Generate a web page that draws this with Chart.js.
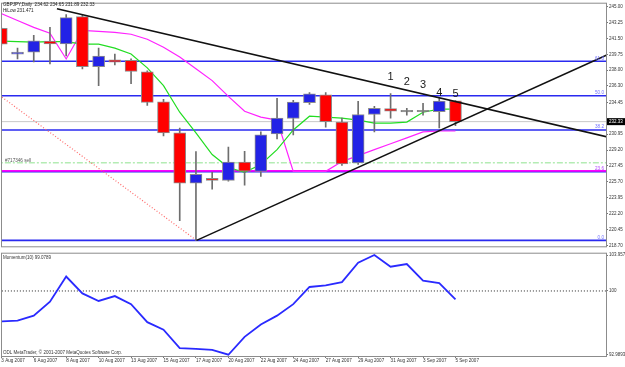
<!DOCTYPE html>
<html>
<head>
<meta charset="utf-8">
<script src="https://cdn.jsdelivr.net/npm/chart.js@4.4.0/dist/chart.umd.min.js"></script>
<style>
  html, body { margin: 0; padding: 0; background: #fff; }
  #wrap { position: relative; width: 625px; height: 367px; overflow: hidden; }
  #main { position: absolute; left: 0; top: 0; }
  #mom { position: absolute; left: 0; top: 250px; }
</style>
</head>
<body>
<div id="wrap">
  <canvas id="main" width="625" height="250"></canvas>
  <canvas id="mom" width="625" height="117"></canvas>
</div>
<script>
// bars (daily, incl. sunday bars)
const dates = ['3 Aug','5 Aug','6 Aug','7 Aug','8 Aug','9 Aug','10 Aug','12 Aug','13 Aug','14 Aug',
  '15 Aug','16 Aug','17 Aug','19 Aug','20 Aug','21 Aug','22 Aug','23 Aug','24 Aug','26 Aug',
  '27 Aug','28 Aug','29 Aug','30 Aug','31 Aug','2 Sep','3 Sep','4 Sep','5 Sep'];

const opens  = [242.61,239.78,240.00,241.20,240.90,243.91,238.40,239.13,239.10,237.83,
  234.51,231.09,225.54,226.09,225.84,227.86,226.85,230.98,232.68,234.42,
  235.29,232.28,227.79,233.12,233.77,233.40,233.42,233.42,234.62];
const highs  = [242.70,240.43,241.85,242.72,244.13,244.08,240.43,239.78,239.24,237.93,
  234.78,231.63,229.02,226.74,229.53,229.05,231.20,234.89,234.67,235.54,
  235.54,232.72,234.57,234.02,235.43,233.80,234.35,235.00,234.65];
const lows   = [240.70,239.24,238.91,238.70,239.57,238.15,236.30,238.59,236.52,234.13,
  230.76,221.41,219.24,224.89,225.76,225.33,226.30,230.43,230.87,234.24,
  231.71,227.50,227.61,231.20,232.72,233.04,233.04,231.63,231.89];
const closes = [240.87,240.00,241.25,240.90,243.80,238.40,239.57,238.88,237.86,234.46,
  231.09,225.54,226.52,225.84,227.86,226.88,230.87,232.72,234.49,235.40,
  232.32,227.68,233.12,233.80,233.48,233.40,233.42,234.60,232.33];

// moving averages
const greenMA = [241.20,241.14,241.09,241.14,241.14,240.87,240.87,240.43,239.78,238.26,
  236.30,233.37,231.09,228.70,227.28,226.74,227.61,229.24,231.41,232.93,
  232.83,232.72,232.50,232.17,232.17,232.28,233.37,233.70,233.70];
const magentaMA = [244.24,243.48,242.72,242.07,239.24,242.39,242.28,242.17,241.96,241.41,
  240.54,239.46,238.15,236.85,235.11,233.48,232.83,232.50,226.85,226.85,
  226.85,227.93,228.59,229.24,229.89,230.54,231.20,231.30,231.30];

// momentum(10)
const momentum = [96.65,96.75,97.29,98.83,101.59,99.73,98.90,99.44,98.55,96.57,
  95.75,93.71,93.63,93.53,92.9893,94.96,96.32,97.29,98.55,100.44,
  100.62,100.98,103.10,103.957,102.67,102.96,101.13,100.87,99.0789];

// objects on the chart
const fibLevels = [238.99, 235.18, 231.41, 226.82, 219.24];
const fibLabels = ['61.8', '50.0', '38.2', '23.6', '0.0'];
const magentaLevel = 226.90;
const bidPrice = 232.33;
const sellLevel = 227.79;
const trendDown = [[3.43, 244.78], [38, 230.38]];
const trendUp = [[12.04, 219.24], [38, 240.21]];
const fibDiag = [[-1, 236.40], [12.04, 219.24]];
const waveMarks = [[24, '1', 237.28], [25, '2', 236.74], [26, '3', 236.41], [27, '4', 235.54], [28, '5', 235.33]];

// axes
const priceTicks = [245.00,243.25,241.50,239.75,238.00,236.30,234.45,230.95,229.20,227.45,225.70,223.95,222.20,220.45,218.70];
const momTicks = [92.9893, 100, 103.957];
const tickBars = [0,2,4,6,8,10,12,14,16,18,20,22,24,26,28];
const tickLabels = ['3 Aug 2007','6 Aug 2007','8 Aug 2007','10 Aug 2007','13 Aug 2007','15 Aug 2007','17 Aug 2007',
  '20 Aug 2007','22 Aug 2007','24 Aug 2007','27 Aug 2007','29 Aug 2007','31 Aug 2007','3 Sep 2007','5 Sep 2007'];

const X_MIN = 0.043, X_MAX = 37.28;
const FONT = '"Liberation Sans", Arial, sans-serif';
Chart.defaults.font.family = FONT;
Chart.defaults.animation = false;

const UP = '#2222e6', DOWN = '#ff0000', DOJI = '#666666';

function hline(v, x0, x1) { return [{x: x0, y: v}, {x: x1, y: v}]; }
function seg(p) { return p.map(q => ({x: q[0], y: q[1]})); }
function lineDs(data, color, width, order, dash) {
  return { type: 'line', data, borderColor: color, borderWidth: width, borderDash: dash || [],
    pointRadius: 0, tension: 0, fill: false, order };
}

const bodyColor = ctx => {
  const i = ctx.dataIndex;
  if (Math.abs(closes[i] - opens[i]) < 0.02) return DOJI;
  return closes[i] > opens[i] ? UP : DOWN;
};

const datasets = [
  // fib and horizontal levels
  ...fibLevels.map(v => lineDs(hline(v, -2, 40), '#2a2af0', 1.6, 20)),
  lineDs(hline(magentaLevel, -2, 40), '#ff00ff', 1.6, 19),
  lineDs(hline(bidPrice, -2, 40), '#c8c8c8', 1, 21),
  lineDs(hline(sellLevel, -2, 40), '#b4ecb4', 1.5, 21, [6, 2, 2, 2]),
  lineDs(seg(fibDiag), '#ff6a6a', 1.2, 18, [1, 2]),
  // moving averages
  lineDs(greenMA.map((v, i) => ({x: i, y: v})), '#22dd22', 1.2, 10),
  lineDs(magentaMA.map((v, i) => ({x: i, y: v})), '#ff22ff', 1.2, 10),
  // candles
  { type: 'bar', data: lows.map((l, i) => ({x: i, y: [l, highs[i]]})), backgroundColor: '#6e6e6e',
    barThickness: 1, grouped: false, order: 5 },
  { type: 'bar', data: opens.map((o, i) => ({x: i, y: [o, closes[i]]})), backgroundColor: bodyColor,
    borderColor: '#8c8c8c', borderWidth: 1, borderSkipped: false, barThickness: 12,
    minBarLength: 1.5, grouped: false, order: 4 },
  // trend lines
  lineDs(seg(trendDown), '#111111', 1.5, 1),
  lineDs(seg(trendUp), '#111111', 1.5, 1)
];

const mainDecor = {
  id: 'mainDecor',
  afterDraw(chart) {
    const {ctx, chartArea: a, scales: {x, y}} = chart;
    ctx.save();
    ctx.strokeStyle = '#8c8c8c'; ctx.lineWidth = 1;
    ctx.strokeRect(a.left - 0.5, a.top - 0.5, a.right - a.left + 1, a.bottom - a.top + 1);

    ctx.textBaseline = 'middle'; ctx.textAlign = 'left';
    ctx.fillStyle = '#222';
    ctx.font = '4.6px ' + FONT;
    ctx.fillText('GBPJPY,Daily  234.62 234.65 231.89 232.33', 3, 5);
    ctx.fillText('HiLow 231.471', 3, 11);
    ctx.fillStyle = '#555';
    ctx.fillText('#717346 sell', 5, y.getPixelForValue(sellLevel) - 2);

    // fib labels
    ctx.textAlign = 'right'; ctx.textBaseline = 'bottom';
    fibLevels.forEach((v, k) => {
      ctx.fillStyle = fibLabels[k] === '23.6' ? '#b040ff' : '#7070ff';
      ctx.fillText(fibLabels[k], a.right - 2, y.getPixelForValue(v) - 0.5);
    });

    // wave numbers
    ctx.font = '11px ' + FONT;
    ctx.fillStyle = '#1a1a1a';
    ctx.textAlign = 'center'; ctx.textBaseline = 'middle';
    waveMarks.forEach(m => ctx.fillText(m[1], x.getPixelForValue(m[0]), y.getPixelForValue(m[2])));

    // bid box
    const py = y.getPixelForValue(bidPrice);
    ctx.fillStyle = '#000';
    ctx.fillRect(a.right + 1, py - 3.5, 18, 7);
    ctx.fillStyle = '#fff';
    ctx.font = '4.5px ' + FONT;
    ctx.textAlign = 'left';
    ctx.fillText(bidPrice.toFixed(2), a.right + 3, py);
    ctx.restore();
  }
};

new Chart(document.getElementById('main'), {
  type: 'bar',
  data: { datasets },
  options: {
    responsive: false,
    layout: { padding: { top: 2, left: 2, bottom: 2, right: 0 } },
    plugins: { legend: { display: false }, tooltip: { enabled: false } },
    scales: {
      x: { type: 'linear', min: X_MIN, max: X_MAX, offset: false, display: false, grid: { offset: false } },
      y: {
        type: 'linear', position: 'right', min: 218.59, max: 245.33, bounds: 'data',
        afterBuildTicks: s => { s.ticks = priceTicks.map(v => ({value: v})); },
        afterFit: s => { s.width = 19; },
        ticks: { autoSkip: false, padding: 1, color: '#333', font: { size: 4.5 },
          callback: v => v.toFixed(2) },
        grid: { drawOnChartArea: false, tickLength: 2, color: '#777' },
        border: { color: '#8c8c8c' }
      }
    }
  },
  plugins: [mainDecor]
});

const momDecor = {
  id: 'momDecor',
  afterDraw(chart) {
    const {ctx, chartArea: a} = chart;
    ctx.save();
    ctx.strokeStyle = '#8c8c8c'; ctx.lineWidth = 1;
    ctx.strokeRect(a.left - 0.5, a.top - 0.5, a.right - a.left + 1, a.bottom - a.top + 1);
    ctx.fillStyle = '#333';
    ctx.font = '4.5px ' + FONT;
    ctx.textBaseline = 'middle'; ctx.textAlign = 'left';
    ctx.fillText('Momentum(10) ' + momentum[momentum.length - 1], 3, a.top + 4.5);
    ctx.fillText('ODL MetaTrader, \u00a9 2001-2007 MetaQuotes Software Corp.', 3, a.bottom - 3);
    ctx.restore();
  }
};

new Chart(document.getElementById('mom'), {
  type: 'line',
  data: {
    datasets: [
      lineDs(hline(100, -2, 40), '#222', 1, 2, [1, 2]),
      lineDs(momentum.map((v, i) => ({x: i, y: v})), '#2a2aff', 1.8, 1)
    ]
  },
  options: {
    responsive: false,
    layout: { padding: { top: 1, left: 2, bottom: 0, right: 0 } },
    plugins: { legend: { display: false }, tooltip: { enabled: false } },
    scales: {
      x: {
        type: 'linear', min: X_MIN, max: X_MAX, offset: false, bounds: 'data',
        afterBuildTicks: s => { s.ticks = tickBars.map(v => ({value: v})); },
        afterFit: s => { s.height = 11; },
        ticks: { autoSkip: false, maxRotation: 0, align: 'start', padding: 0, color: '#333',
          font: { size: 4.6 }, callback: (v, i) => tickLabels[i] },
        grid: { drawOnChartArea: false, tickLength: 2, color: '#777', offset: false },
        border: { color: '#8c8c8c' }
      },
      y: {
        type: 'linear', position: 'right', min: 92.85, max: 104.1, bounds: 'data',
        afterBuildTicks: s => { s.ticks = momTicks.map(v => ({value: v})); },
        afterFit: s => { s.width = 19; },
        ticks: { autoSkip: false, padding: 1, color: '#333', font: { size: 4.5 },
          callback: v => String(v) },
        grid: { drawOnChartArea: false, tickLength: 2, color: '#777' },
        border: { color: '#8c8c8c' }
      }
    }
  },
  plugins: [momDecor]
});
</script>
</body>
</html>
